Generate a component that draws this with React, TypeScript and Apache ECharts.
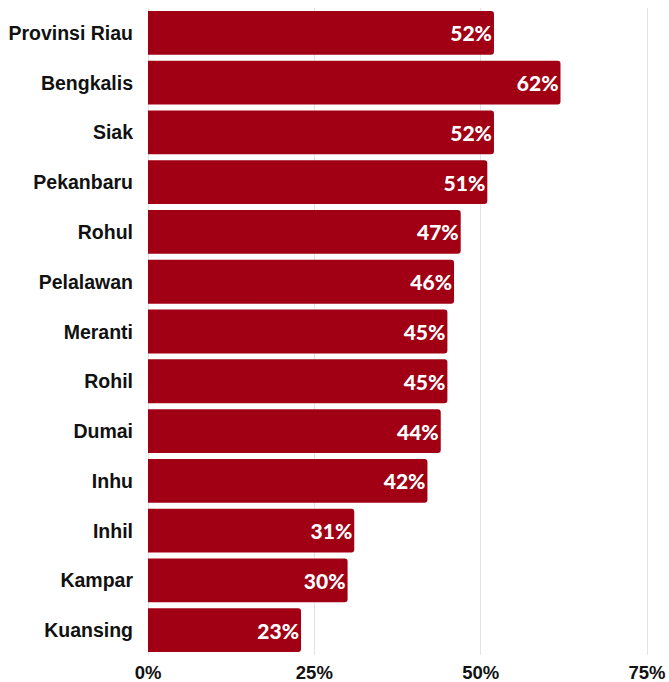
import React, { useEffect, useRef } from "react";
import * as echarts from "echarts";

const categories = [
  "Provinsi Riau",
  "Bengkalis",
  "Siak",
  "Pekanbaru",
  "Rohul",
  "Pelalawan",
  "Meranti",
  "Rohil",
  "Dumai",
  "Inhu",
  "Inhil",
  "Kampar",
  "Kuansing",
];
const values = [52, 62, 52, 51, 47, 46, 45, 45, 44, 42, 31, 30, 23];
const xTicks = [0, 25, 50, 75];

export default function App() {
  const ref = useRef<HTMLDivElement>(null);
  useEffect(() => {
    if (!ref.current) return;
    const chart = echarts.init(ref.current, null, { renderer: "svg" });
    chart.setOption({
      animation: false,
      grid: { left: 148, right: 22, top: 8, bottom: 27, containLabel: false },
      xAxis: {
        type: "value",
        min: xTicks[0],
        max: xTicks[xTicks.length - 1],
        interval: 25,
        axisLine: { show: false },
        axisTick: { show: false },
        splitLine: { show: true, lineStyle: { color: "#e3e3e3", width: 1 } },
        axisLabel: {
          formatter: (v: number) => v + "%",
          fontFamily: "Liberation Sans",
          fontWeight: "bold",
          fontSize: 18.5,
          color: "#111",
          margin: 8,
        },
      },
      yAxis: {
        type: "category",
        data: categories,
        inverse: true,
        axisLine: { show: false },
        axisTick: { show: false },
        splitLine: { show: false },
        axisLabel: {
          fontFamily: "Liberation Sans",
          fontWeight: "bold",
          fontSize: 19.5,
          color: "#111",
          margin: 15,
        },
      },
      series: [
        {
          type: "bar",
          data: values,
          barCategoryGap: "12%",
          itemStyle: { color: "#A10014", borderRadius: [0, 3, 3, 0] },
          label: {
            show: true,
            position: "insideRight",
            distance: 2,
            formatter: (p: any) => p.value + "%",
            color: "#fff",
            fontFamily: "Lato",
            fontWeight: 900,
            fontSize: 21,
          },
        },
      ],
    });
    return () => chart.dispose();
  }, []);
  return (
    <div
      ref={ref}
      style={{ position: "fixed", left: 0, top: 0, width: 669, height: 682, background: "#fff" }}
    />
  );
}
